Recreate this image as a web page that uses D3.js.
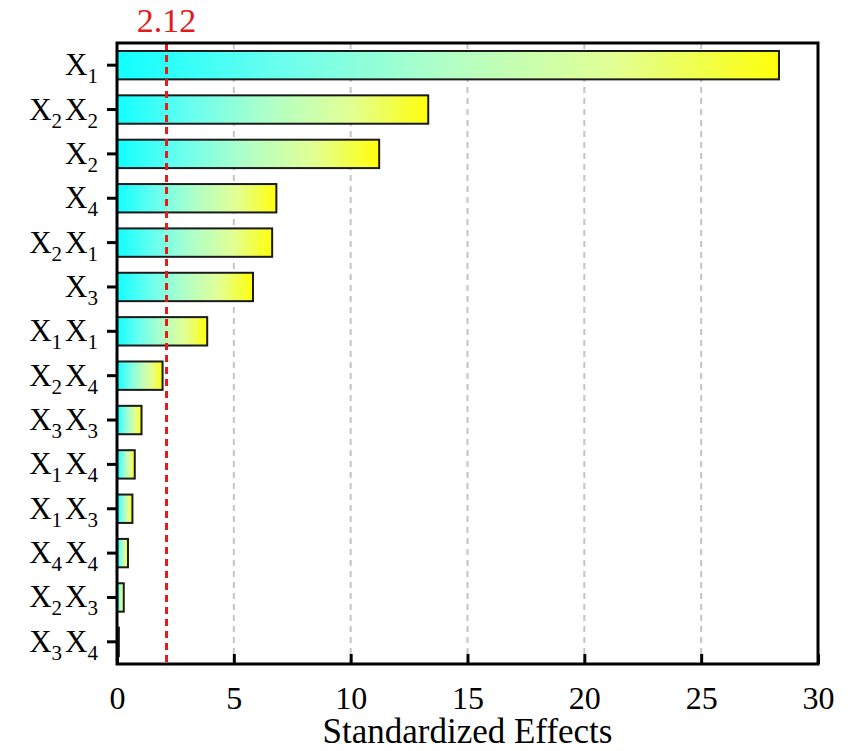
<!DOCTYPE html>
<html>
<head>
<meta charset="utf-8">
<script src="https://cdn.jsdelivr.net/npm/d3@7"></script>
<style>
body{margin:0;background:#fff;}
svg text{font-family:"Liberation Serif","Times New Roman",serif;}
</style>
</head>
<body>
<svg id="svg1" width="856" height="751"></svg>
<script>
// data: term subscripts, top to bottom, and their standardized effects
const terms = [["1"],["2","2"],["2"],["4"],["2","1"],["3"],["1","1"],["2","4"],["3","3"],["1","4"],["1","3"],["4","4"],["2","3"],["3","4"]];
const effects = [28.33, 13.32, 11.22, 6.82, 6.64, 5.82, 3.86, 1.95, 1.05, 0.76, 0.66, 0.47, 0.29, 0.08];
const xTicks = [0, 5, 10, 15, 20, 25, 30];
const threshold = 2.12;

const svg = d3.select('#svg1');
const margin = {top:43, left:117, right:38, bottom:87};
const width = 856, height = 751;
const innerWidth = width - margin.left - margin.right;
const innerHeight = height - margin.top - margin.bottom;

const ids = terms.map((t,i) => i);
const x = d3.scaleLinear().domain([0,30]).range([0, innerWidth]);
const y = d3.scaleBand().domain(ids).range([0, innerHeight]).paddingInner(0.36).paddingOuter(0.18);

// gradient per bar (objectBoundingBox)
const grad = svg.append('defs').append('linearGradient')
  .attr('id','barGrad').attr('x1','0%').attr('x2','100%').attr('y1','0%').attr('y2','0%');
[[0,'#10ffff'],[0.25,'#6cffee'],[0.5,'#b2ffc6'],[0.75,'#e2ff94'],[1,'#ffff0a']].forEach(s => {
  grad.append('stop').attr('offset', s[0]).attr('stop-color', s[1]);
});

const g = svg.append('g').attr('transform',`translate(${margin.left},${margin.top})`);

// dashed grid
g.selectAll('.grid').data(xTicks.slice(1,-1)).enter().append('line')
  .attr('x1', d => x(d)).attr('x2', d => x(d))
  .attr('y1', 0).attr('y2', innerHeight)
  .attr('stroke','#c4c4c4').attr('stroke-width',2).attr('stroke-dasharray','6,5');

// bars
g.selectAll('.bar').data(ids).enter().append('rect')
  .attr('x', 0)
  .attr('y', i => y(i))
  .attr('width', i => x(effects[i]))
  .attr('height', y.bandwidth())
  .attr('fill','url(#barGrad)')
  .attr('stroke','#1a1a1a').attr('stroke-width',2);

// threshold line
g.append('line')
  .attr('x1', x(threshold)).attr('x2', x(threshold))
  .attr('y1', 0).attr('y2', innerHeight)
  .attr('stroke','#e31a1c').attr('stroke-width',3).attr('stroke-dasharray','7,5');
g.append('text')
  .attr('x', x(threshold)).attr('y', -11)
  .attr('text-anchor','middle').attr('fill','#e31a1c')
  .style('font-size','34px').text(threshold.toFixed(2));

// frame
g.append('rect').attr('x',0).attr('y',0).attr('width',innerWidth).attr('height',innerHeight)
  .attr('fill','none').attr('stroke','#000').attr('stroke-width',3);

// x axis
const xAxis = d3.axisBottom(x).tickValues(xTicks).tickSizeInner(-10).tickSizeOuter(0).tickPadding(22);
const xg = g.append('g').attr('transform',`translate(0,${innerHeight})`).call(xAxis);
xg.select('.domain').remove();
xg.selectAll('line').attr('stroke','#000').attr('stroke-width',3);
xg.selectAll('text').style('font-size','32px').attr('fill','#000').attr('font-family',null);

// y axis
const yAxis = d3.axisLeft(y).tickSize(10).tickSizeOuter(0).tickFormat('');
const yg = g.append('g').call(yAxis);
yg.select('.domain').remove();
yg.selectAll('line').attr('stroke','#000').attr('stroke-width',3);

// y labels with subscripts
const labels = g.selectAll('.ylab').data(ids).enter().append('text')
  .attr('x', -19)
  .attr('y', i => y(i) + y.bandwidth()/2 + 10)
  .attr('text-anchor','end')
  .style('font-size','31px').attr('fill','#000');
labels.each(function(i){
  const t = d3.select(this);
  terms[i].forEach((s,k) => {
    t.append('tspan').attr('dy', k === 0 ? 0 : -8).attr('dx', k === 0 ? 0 : 3).text('X');
    t.append('tspan').attr('dy', 8).style('font-size','21px').text(s);
  });
});

// axis title
svg.append('text')
  .attr('x', margin.left + innerWidth/2)
  .attr('y', 743)
  .attr('text-anchor','middle')
  .style('font-size','35px').attr('fill','#000')
  .text('Standardized Effects');
</script>
</body>
</html>
